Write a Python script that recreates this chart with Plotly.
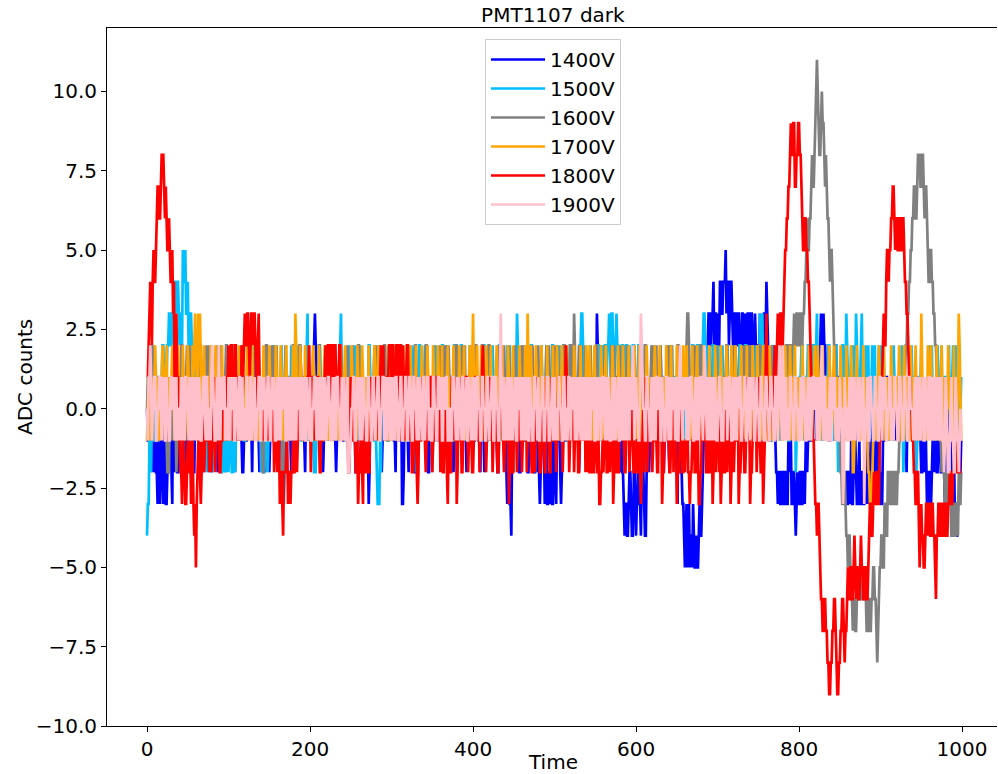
import numpy as np
import plotly.graph_objects as go

# Level code for the hand-read samples: a=-10, b=-9, ... k=0, l=1, ... v=11
CODE = "abcdefghijklmnopqrstuv"

# One string per 100 time units, one sample per time unit
v1400 = [
    "kjjkkijkijkiihjihikj hijhhiikkjihlkijjiik kjlkjiklijjkkilkjiik kljkljkijkijkllkjikj ijkllkjikjjllkkjikkl",
    "klljjkkjikjlkjlkjiij kjjklkkljikjlkjlkjik kjlkjikljkijlkkljkkj lkjkkjiijkklljkkjiik klljjkkjmljkkjiklkjk",
    "klljjmnmkljklkkjijkl lkjlkjlkjlkjijkllkjk kjjkljkljkklljkjiijk kjlkijkljkkjhikjlkjk kljkljkjijkllkjkkljk",
    "lkkjjilkkjjkkhhikjlk jikllkjkkiijkllkjkkl lkjkkiijlkkjjkklljjk kjlkjkklmkjlkkllijkj jkkllljkkjlkijkkjllk",
    "kjjklkkjjilkkjijkllk jkkjlljkkjiikllkjkkj lihikhhgjikjlkjikiij klljjkkiijlkjkkiijji kihijkljhikhhiihjhhi",
    "kihjjkkihilkkjjkljkl jkkjllkjjkijkllkjkkj lkjkklljkljknmklmkjk kjlkjlkjlkjkkjijkllk jikiihghhgghiihgghki",
    "ghhiihgijihggikjijjk kllkjkkjlkjlkjijkllk jikjlkjkkjihljjiihhg fghfghfggfhgffgffghg ghijjkllmnnmmnnomnnm",
    "nmmoonnooopnoomnoonm mnnmmnnmlmnnmmnmmnnm mnnmmmnmmmklnmjkmnnm onmkkjjlmkkjiihiihhi ihhiihhjijjhhiihghih",
    "hiihhiihjkijkjjkkllk kjlkklmnkjnmmllkkjjk kjlkjkkllkjkkjiihiih hiihjhhikjihhijhhiih hijhijhiijjkkiijhijh",
    "ihhjjkkllkjkkllkjlkj lkjlkjlkjlkjikjkkllk jkkllkjkkjiijikkihhi ihhijkijjiijkjiijkih kjjkllkjihjhhgghhiij",
]
v1500 = [
    "ghhjjikkljjkkllkkllm mlkllmmnnmmnnnoonoon mnnmpoopnnommnnmlmmk kllkjkkjljjkkjijlkkl ijjkkjlkjkkiiklijkij",
    "ijkjiijkijlkkljklmkj jklkklmllkkmjkllkjjk ijkiijlkijkjjklmklml kljklmkjhikjlkjkkmlk jkklmllkkjjklkklmnjk",
    "kjlkjiiikllmmlkjjklm kljklmklmllkkljklmnl klljjkklmkkljklmkljk lmkjijlkkljkmmlkkjjl kjihhhjilkklmlkjjklk",
    "klmllkjkkllmmkkjjklm mlkjjklmklijlkmmkljk lmklmkjlkjlkklmkjkkl lkmmkljklmkjijkklmmk kljklmmlkjlkjlkkmllk",
    "jkklmllkkjjklmmkkjjk lmklmljkkllkmmkljklk klmklmkjjklkklnmlkjk klmkljjkkllmmkkjijlk kljkmllkkjmkjlkklmmk",
    "kjlkjlmlkklmmlkjjklm mlkjlkjkkllmmnnmkllk jkklmllkkjjklmmlkjlm klmmlmmnmlnnmllmnmml mllmmkklmmlkmljkmmlk",
    "kllmmkjkkllmmkkjjklk mlkjjklkklmllkkljkml lmkjmkjllkklmllkkljk lkmmkljklmmkkllmmkkl lmmnnmklmllkjkmmkllk",
    "mlkjlkmljkklmllkklml lkmlkjlmmljkklmmlkkl mklmklmklmjknmmnkllm mlklljjkmllmklmljklk klmllkkjjkmllmklijlk",
    "kllmmkjkkllmmkkllmmk kmnllkkjmkjllkklmmlk kljklmmkijkllmmkklnm lkklmklmklnmlkjlmnlk klmklmjkklmklmkljkml",
    "lmklmkjkkjlkjkklmllk kljkllmkijkkljjkklml lkkjijjkllmkkjlkjkkl mklmkljklkmlkjlmjkkl lkklmkjklmklmllkjkkl",
]
v1600 = [
    "kllmmmjkmllkkjjklkkl lkkjjiiilkkjmllkijkl lkmmkljklmklmljkkllk jkkllmmlkjjklmklmklm kjlkjlmkkllmkjjklmml",
    "kljklmmlkjlkjkklmllk jkkllmmljkkjlkklmkjk kjiilkmmkljklmklmklm kljklkijklmklljkkllm mkkjjklmmlkllkjkklml",
    "lkklmljkkjlmmkkljklm klmklmjkkjmmlkkljkml lkjkklmllkkjmljkkllm mlkjlkjkkjijlkkljklm klmklmjkkllmmkkjjkml",
    "lmklmkjklkklmllkkjjk mklmkljklmmlkjlkjkkl lkmmkljkkjijmkkljklm klmklmjkklmllkkjjklm mlkjjklmklmklljkklml",
    "kllmmkjkkllmmlkjjklm mlkjlkjkklmklmkljkml lkklmljkkjijmlkkjklm klmllkjkklmklmkljklk mlkjlkjkklmklmkljkml",
    "lmkjmljkkllmmkkljklm mlklnmjkklmklmkljkml lkklmkjkkllmmkkljklk klmllkjkklmklmkjijlk mkkllmjkklmllkkljkml",
    "lkklmljkkllmmkkjjklm klmklmjkklmllkkljkml lmklmkjkkjlmmlkljklk klmnnmjkklmklmkljklm mlkjlkjkklmllkkljkml",
    "lkklmljkkllmmkkljklm klmllkjkklmklmkljkml lmkjmkjkkllmmlkjjklk klmklmjkklmllkkmmljk mkklmmlmmlkmmmnmmnnm",
    "mnnmmnnoopqppqqrsrrs tuvutsstuttsrsrqqpop ponmmllkkjjiihhiihgg fggfeedeeddefeeffeef feeddeeddeeffeedcdef",
    "fggffhhggiihhiihhiih hiijjkklkllmmnnooppq qrrqqrsssrrssrqrrqpo oppoonnmmllkkjjijiih ihhiihhgghhgghhgihhi",
]
v1700 = [
    "jkljlkjklkmlkjlkjklm lkjlmkljkklmlkjkljml kljkmlkjlkmlkjlkmlmn mlknmnlkjlmkljkljkml kljkmlkjlkljmkljklkj",
    "lkjlmkjklkljkmlkjlkl kjlmlkjlkmkljklkjmlk jlkmkjlkljmlkjklkjml kljkmlkjlklmkjlkjlkm lknmkljkmlkjlkmjklkl",
    "kjlkmljkljkmlkjlklmj lkjmlkjklmkjlkljkmlk jklmkjlkjlkmljklkjml kljkmlkjlkljmkljklkm lkjlmkjlkmlkjlkjmlkj",
    "klmkjlkljmklkjlmkjlk jlkmlkjklkmjlkjlkmlk kjlkmljklkjmlkjlkmlj lkmjklkjlmkljklkmjlk kljmlkjlkmkljkjlmkjl",
    "nlkjlmkjlkmlkjlkmlkj lkmjklkjlmkljklkmjlk jlkmlkjlkmkljklkjmlk kljkmlknljkmlkjlkmlj lkjlmkjlkljmkljklkmk",
    "jlkmlkjlkmkjlklmkjlk kljkmlkjlkljmkljklkm lkjmlkjklmkjlkljkmlk jklmkjlkjlkmljklkjml kjlkmljkljkmlkjlklmj",
    "lkjlmkjklkljkmlkjlkl kjlmlkjlkmkljklkjmlk jlkmkjlkljmlkjklkjml klmkjlkljmklkjlmkjlk jlkmlkjklkmjlkjlkmlk",
    "kjlkmljklkjmlkjlkmlj lkmjklkjlmkljklkmjlk kljmlkjlkmkljkjlmkjl lkjlmkjlkljmkljklkmk jlkmlkjlkmkjlklmkjlk",
    "kljkmlkjlkljmkljklkm lkjmlkjklmkjlkljkmlk jklmkjlkjlkmljklkjml kljkmliijklmkjlkjlkm kljkjiihhhijkkjlklmk",
    "lkjlmkjklkljkmlkjlkl kjlmlkjlkmkljklkjmlk jlkmkjlkljnlkjklkjml klmkjlkljmklkjlmkjlk jlkmlkjklkmjlkjlnmkj",
]
v1800 = [
    "llmnonmopoopqrrqqrss srqrqppqpoopnokmnllk jiihkjihhijiijhijhgh fhijjihikjijjklkijki jkljijjkkiijjkkllkjl",
    "mklmmjklmmjkllkjmklm nmmnnmlmnnmnnmklmnlk kljkljkljklkkjjkijkj ijjhiihgiiijjhiihiij iijkijkljklkkjjkkllm",
    "jikllkjkklljiikjjklm klmmlkmmklmmlkklmmjk kjlkjkkiijlkkjjkiijh iijkihkjiijiiilkjkkj lkkljklmklmkjkkllmmm",
    "lmmkklmmlkmmjkmlkjlm mkjkkiijlkjihikjjklk kjijjkkllkijjkkllkjk ijjiikkjihjkiilkjkkl hikjlkiijkkllkijkjji",
    "ijkllkjkijklmljkijlk kljkijlkkjiijkmlkjij jkljhikjiijklkijkjjk ijjkklijlkkjiijkijlk kjiijkljiikljkiilkkj",
    "jkijkllkjkijklmljkij kjlkijjkkiijlkjkklij jiliiijiijkjiijhhiij ijjkiikjijjkhiijjiii kljkljiijkklijlkjiij",
    "jiijkihijkijlkijjkkl ijjkljiikjjkhiijjklk jiijklijjkhiiikjjiij ijjkiihiijjkiiijjhhi ikkjjliiljiijkhikjij",
    "jkijhikjiilkijjkhikj ijjklkhiijkjjiijlkjk hiijjkklijlkjiijhijl nlkjjklkklmllmnmmnnm mnoppqqrrstssttrrsst",
    "tssrqppqqppoonmlkjji hhghhgfeeddeeddccbbc cddeedcbbccddeedcdde feeffeefgfeffeefgffe effeefghhgghihhiihhj",
    "jklmnmmoppoppqqrrqpq qppqqppqqpoonnmllkkj jiihhiigfghggffghhgh hgghhggfegghhgghhggh hgghhiihhiijjiijjiii",
]
v1900 = [
    "kjllmljkklljjkkllkjl kljjlkkjjllkkljkljkk jkljkljllkkjlkjlkjlk jlkjlkjjkllkjlljkkjl mlkjjkljmkjlkklljkkj",
    "lkjlkkljjlkkjlljkljk kjlljkjlljkkljjkkllj jlkkljjkllkjjlkkljjk ljkljklkkljjlkjlkjlk jlkjlkkljkljkljjlkkj",
    "ljjkkllkjlkjlkjlkjlk jkllkjjkljkljllkkjjl kjlkjjliijjkklljjklk ljkljklkkjjllkkjjllk jkklljjkklljkljklkjl",
    "kjlkjllkjjklljjkkllj jkllkjjllkkjlkjlkkjl ljkklljkkjjllkkjjllk kljjlkklljjkkjjllkkj lkjlkkjlljkkljjlkkjl",
    "kjlkjllkkjjllkkjjllk jkklljjllkkjjlnlkjlk jkljkljkljkkljjlkklj kljkljkljjlkkjjllkkj ljjkklljjkklljjkkljk",
    "ljkkjllkkjjlljkkjllk jlkkljkljklkjlkjlkjl kjlkjlkkljjlkjlkljkl lkjlkjlkjjkljkljkklj jlkjlkjlkjlkjlkkmljk",
    "lkkjjlnmlkkjjllkkjjl kjlkjllkkljjlkkjjllk jlkjlkkljkljjlmkkjlk kljkljkllkjjkljkljkl lkjkmlkjlkjlkjlkjlkj",
    "jkllkjjjlkkljkllkjjl kjlkjlklljjkklljjklk jlkkljjklkkjjllkkjjl lkkjjllkkjjllkjlmlkj mljkljkkjllkkjjllkkj",
    "jkljkllkjjkljkljkllk kljkljklmkjlljkjjklj jlkkljkkjjlkkjhilkkj jkljkljkljkkljjlkkjl hjkkljjllkkjjllkkjjl",
    "lkjlkkljjkklljkkjllk kjjllkkjjllkkjjllkkk jkljkljkljkkljjlkkjl ljkljkljkljkljkljjij lkjiijkljjiilkjjijkj",
]

series_names = ["1400V", "1500V", "1600V", "1700V", "1800V", "1900V"]
series_data = [v1400, v1500, v1600, v1700, v1800, v1900]
series_colors = ["#0000ff", "#00bfff", "#808080", "#ffa500", "#ff0000", "#ffc0cb"]

x_ticks = [0, 200, 400, 600, 800, 1000]
y_ticks = [-10, -7.5, -5, -2.5, 0, 2.5, 5, 7.5, 10]
y_ticktext = ["\u221210.0", "\u22127.5", "\u22125.0", "\u22122.5", "0.0", "2.5", "5.0", "7.5", "10.0"]


def decode(chunks):
    s = "".join(chunks).replace(" ", "")
    return np.array([CODE.index(c) - 10 for c in s], dtype=float)


fig = go.Figure()
for name, chunks, color in zip(series_names, series_data, series_colors):
    y = decode(chunks)
    x = np.linspace(0, 999, len(y))
    fig.add_trace(go.Scatter(x=x, y=y, mode="lines", name=name,
                             line=dict(color=color, width=2.7)))

FONT = "DejaVu Sans"
fig.update_layout(
    width=998, height=774,
    margin=dict(l=107, r=1, t=28, b=48),
    paper_bgcolor="white", plot_bgcolor="white",
    font=dict(family=FONT, size=20, color="black"),
    title=dict(text="PMT1107 dark", x=0.501, xref="paper", xanchor="center",
               y=1 - 15 / 774, yref="container", yanchor="middle",
               font=dict(family=FONT, size=20, color="black")),
    showlegend=True,
    legend=dict(x=(485 - 107) / 890, y=(726 - 39) / 698, xanchor="left", yanchor="top",
                bgcolor="rgba(255,255,255,0.85)", bordercolor="#cccccc", borderwidth=1,
                itemwidth=54,
                font=dict(family=FONT, size=20, color="black")),
    xaxis=dict(range=[-49.1, 1042.9], tickvals=x_ticks, ticks="outside", ticklen=5,
               tickwidth=1, tickcolor="black", showline=True, linecolor="black",
               linewidth=1, mirror=True, showgrid=False, zeroline=False,
               tickfont=dict(family=FONT, size=20, color="black")),
    yaxis=dict(range=[-10, 12], tickvals=y_ticks, ticktext=y_ticktext, ticks="outside",
               ticklen=5, tickwidth=1, tickcolor="black", showline=True,
               linecolor="black", linewidth=1, showgrid=False, zeroline=False,
               tickfont=dict(family=FONT, size=20, color="black")),
    annotations=[
        dict(text="Time", xref="paper", yref="paper", x=0.501, y=0, xanchor="center",
             yanchor="middle", yshift=-36, showarrow=False,
             font=dict(family=FONT, size=20, color="black")),
        dict(text="ADC counts", xref="paper", yref="paper", x=0, y=0.5, xanchor="center",
             yanchor="middle", xshift=-82, textangle=-90, showarrow=False,
             font=dict(family=FONT, size=20, color="black")),
    ],
)

fig.write_html("out.html")
